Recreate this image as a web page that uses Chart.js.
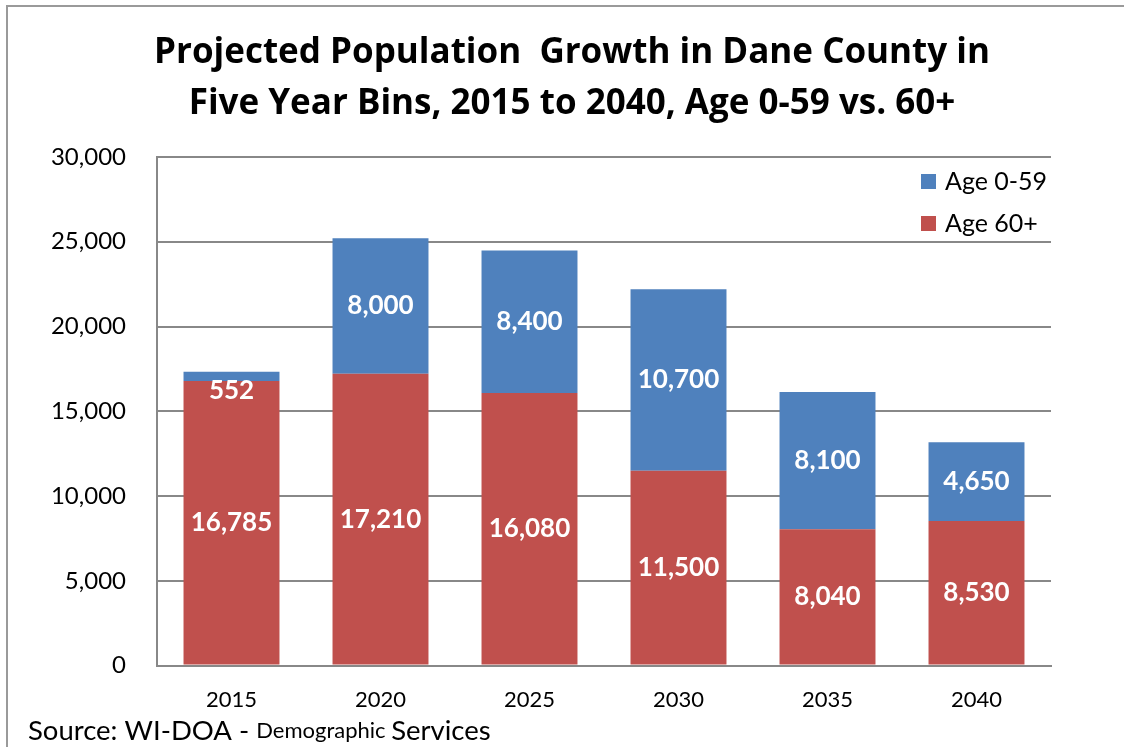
<!DOCTYPE html>
<html>
<head>
<meta charset="utf-8">
<script src="https://cdn.jsdelivr.net/npm/chart.js@4"></script>
<style>
  html, body { margin: 0; padding: 0; background: #fff; }
  #wrap { width: 1124px; height: 747px; }
</style>
</head>
<body>
<div id="wrap"><canvas id="c"></canvas></div>
<script>
const years = ['2015', '2020', '2025', '2030', '2035', '2040'];
const age60plus = [16785, 17210, 16080, 11500, 8040, 8530];
const age0to59 = [552, 8000, 8400, 10700, 8100, 4650];
const yTicks = [0, 5000, 10000, 15000, 20000, 25000, 30000];

const FONT = 'Lato, "Open Sans", sans-serif';
const TITLE_FONT = '"Open Sans", Lato, sans-serif';

// outer frame + source note
const framePlugin = {
  id: 'frame',
  beforeDraw(chart) {
    const ctx = chart.ctx;
    ctx.save();
    ctx.fillStyle = '#fff';
    ctx.fillRect(0, 0, chart.width, chart.height);
    ctx.strokeStyle = '#9a9a9a';
    ctx.lineWidth = 2;
    ctx.strokeRect(7, 6, chart.width + 20, chart.height + 20);
    ctx.restore();
  },
  afterDraw(chart) {
    const ctx = chart.ctx;
    ctx.save();
    ctx.fillStyle = '#000';
    ctx.textBaseline = 'middle';
    let x = 28;
    const y = 731;
    const parts = [['Source: WI-DOA - ', 27.5], ['Demographic ', 22], ['Services', 27.5]];
    parts.forEach(([t, s]) => {
      ctx.font = s + 'px ' + FONT;
      ctx.fillText(t, x, y);
      x += ctx.measureText(t).width;
    });
    ctx.restore();
  }
};

// white value labels inside the bar segments
const valueLabels = {
  id: 'valueLabels',
  afterDatasetsDraw(chart) {
    const ctx = chart.ctx;
    ctx.save();
    ctx.fillStyle = '#fff';
    ctx.font = 'bold 26px ' + FONT;
    ctx.textAlign = 'center';
    ctx.textBaseline = 'middle';
    chart.data.datasets.forEach((ds, i) => {
      chart.getDatasetMeta(i).data.forEach((bar, j) => {
        const h = bar.base - bar.y;
        const y = h < 22 ? bar.base + 10 : bar.y + h / 2;
        ctx.fillText(ds.data[j].toLocaleString('en-US'), bar.x, y);
      });
    });
    ctx.restore();
  }
};

// legend inside the plot, top right
const insideLegend = {
  id: 'insideLegend',
  afterDraw(chart) {
    const ctx = chart.ctx;
    const items = chart.data.datasets.slice().reverse();
    ctx.save();
    ctx.font = '25px ' + FONT;
    ctx.textBaseline = 'middle';
    items.forEach((ds, i) => {
      const y = 182 + i * 42;
      ctx.fillStyle = ds.backgroundColor;
      ctx.fillRect(921, y - 8, 15, 15);
      ctx.fillStyle = '#000';
      ctx.fillText(ds.label, 945, y);
    });
    ctx.restore();
  }
};

new Chart(document.getElementById('c'), {
  type: 'bar',
  data: {
    labels: years,
    datasets: [
      { label: 'Age 60+', data: age60plus, backgroundColor: '#C0504D', barPercentage: 0.644, categoryPercentage: 1 },
      { label: 'Age 0-59', data: age0to59, backgroundColor: '#4F81BD', barPercentage: 0.644, categoryPercentage: 1 }
    ]
  },
  options: {
    responsive: true,
    maintainAspectRatio: false,
    animation: false,
    layout: { padding: { left: 20, right: 0, top: 0, bottom: 13 } },
    plugins: {
      legend: { display: false },
      tooltip: { enabled: false },
      title: {
        display: true,
        text: ['Projected Population  Growth in Dane County in', 'Five Year Bins, 2015 to 2040, Age 0-59 vs. 60+'],
        color: '#000',
        font: { family: TITLE_FONT, size: 35, weight: 'bold', lineHeight: 1.457 },
        padding: { top: 28, bottom: 27 }
      }
    },
    scales: {
      x: {
        stacked: true,
        grid: { display: false, drawTicks: false },
        border: { color: '#888', width: 2 },
        ticks: { color: '#000', font: { family: FONT, size: 22 }, padding: 21 }
      },
      y: {
        stacked: true,
        min: 0,
        max: 30000,
        afterFit(scale) { scale.width = 137; },
        afterBuildTicks(scale) { scale.ticks = yTicks.map(v => ({ value: v })); },
        grid: { color: '#888', lineWidth: 2, drawTicks: false },
        border: { color: '#888', width: 2 },
        ticks: {
          color: '#000',
          font: { family: FONT, size: 24 },
          padding: 31,
          callback: v => v.toLocaleString('en-US')
        }
      },
      yr: {
        position: 'right',
        display: true,
        afterFit(scale) { scale.width = 73; },
        grid: { display: false, drawTicks: false },
        border: { display: false },
        ticks: { display: false }
      }
    }
  },
  plugins: [framePlugin, valueLabels, insideLegend]
});
</script>
</body>
</html>
